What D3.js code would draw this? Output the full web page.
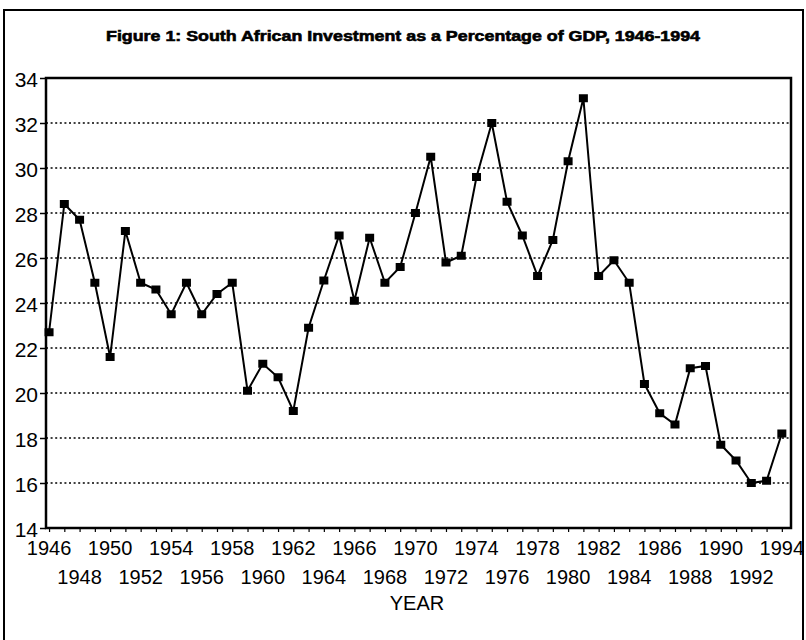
<!DOCTYPE html>
<html>
<head>
<meta charset="utf-8">
<script src="https://cdn.jsdelivr.net/npm/d3@7"></script>
<style>
  html, body { margin: 0; padding: 0; background: #fff; }
  svg { display: block; }
</style>
</head>
<body>
<svg id="chart" width="806" height="640"></svg>
<script>
const years = d3.range(1946, 1995);
const investment = [
  22.7, 28.4, 27.7, 24.9, 21.6, 27.2, 24.9, 24.6, 23.5, 24.9,
  23.5, 24.4, 24.9, 20.1, 21.3, 20.7, 19.2, 22.9, 25.0, 27.0,
  24.1, 26.9, 24.9, 25.6, 28.0, 30.5, 25.8, 26.1, 29.6, 32.0,
  28.5, 27.0, 25.2, 26.8, 30.3, 33.1, 25.2, 25.9, 24.9, 20.4,
  19.1, 18.6, 21.1, 21.2, 17.7, 17.0, 16.0, 16.1, 18.2
];
const yTicks = [14, 16, 18, 20, 22, 24, 26, 28, 30, 32, 34];
const xLabelYears = d3.range(1946, 1995, 2);
const title = "Figure 1: South African Investment as a Percentage of GDP, 1946-1994";
const xTitle = "YEAR";

(function () {
const svg = d3.select("#chart");
const font = "'Liberation Sans', Arial, sans-serif";

// outer frame
svg.append("rect").attr("x", 4).attr("y", 10).attr("width", 799).attr("height", 660)
  .attr("fill", "none").attr("stroke", "#000").attr("stroke-width", 2);

const pLeft = 46, pRight = 791, pTop = 78, pBottom = 528;
const x = d3.scaleLinear().domain([1945.8, 1994.6]).range([pLeft, pRight]);
const y = d3.scaleLinear().domain([14, 34]).range([pBottom, pTop]);

// title
svg.append("text").attr("x", 403).attr("y", 41).attr("text-anchor", "middle")
  .attr("font-family", font).attr("font-weight", "bold").attr("font-size", 14.5)
  .attr("textLength", 594).attr("lengthAdjust", "spacingAndGlyphs")
  .attr("fill", "#000").attr("stroke", "#000").attr("stroke-width", 0.6)
  .text(title);

// gridlines
svg.append("g").selectAll("line").data(yTicks.filter(t => t > 14 && t < 34)).join("line")
  .attr("x1", pLeft).attr("x2", pRight)
  .attr("y1", d => y(d)).attr("y2", d => y(d))
  .attr("stroke", "#000").attr("stroke-width", 1.6).attr("stroke-dasharray", "2,2.6");

// y axis
const yAxis = d3.axisLeft(y).tickValues(yTicks).tickSize(6).tickPadding(2).tickFormat(d3.format("d"));
const gy = svg.append("g").attr("transform", `translate(${pLeft},0)`).call(yAxis);
gy.select(".domain").remove();
gy.selectAll(".tick line").attr("stroke", "#000").attr("stroke-width", 1.5);
gy.selectAll(".tick text").attr("font-family", font).attr("font-size", 21)
  .attr("fill", "#000").attr("dy", "0.42em");

// x axis ticks (every year) and labels in two rows
const xAxis = d3.axisBottom(x).tickValues(years).tickSize(4).tickFormat("");
const gx = svg.append("g").attr("transform", `translate(0,${pBottom})`).call(xAxis);
gx.select(".domain").remove();
gx.selectAll(".tick line").attr("stroke", "#000").attr("stroke-width", 1.2);

svg.append("g").selectAll("text").data(xLabelYears).join("text")
  .attr("x", d => x(d))
  .attr("y", (d, i) => i % 2 === 0 ? 555 : 584)
  .attr("text-anchor", "middle").attr("font-family", font).attr("font-size", 20)
  .attr("fill", "#000").text(d => d);

svg.append("text").attr("x", 417).attr("y", 610).attr("text-anchor", "middle")
  .attr("font-family", font).attr("font-size", 20).attr("fill", "#000").text(xTitle);

// plot frame
svg.append("rect").attr("x", pLeft).attr("y", pTop).attr("width", pRight - pLeft).attr("height", pBottom - pTop)
  .attr("fill", "none").attr("stroke", "#000").attr("stroke-width", 2.5);

// line
const data = years.map((yr, i) => ({ yr, v: investment[i] }));
svg.append("path").datum(data)
  .attr("fill", "none").attr("stroke", "#000").attr("stroke-width", 2)
  .attr("d", d3.line().x(d => x(d.yr)).y(d => y(d.v)));

// markers
svg.append("g").selectAll("rect").data(data).join("rect")
  .attr("x", d => x(d.yr) - 4.5).attr("y", d => y(d.v) - 4)
  .attr("width", 9).attr("height", 8).attr("fill", "#000");
})();
</script>
</body>
</html>
